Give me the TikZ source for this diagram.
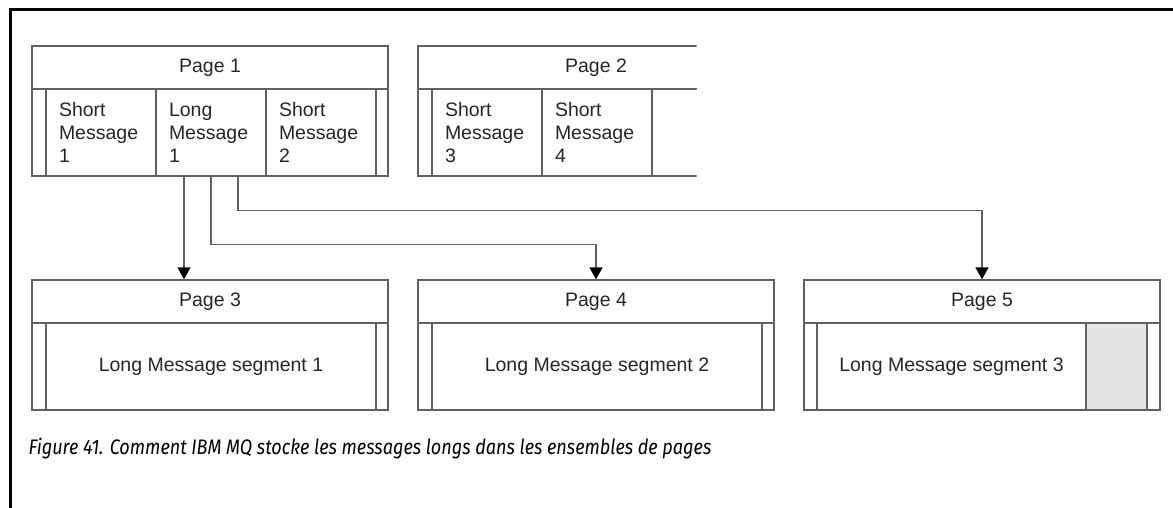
\documentclass[tikz,border=0pt]{standalone}
\usepackage{fontspec}
\setmainfont{Liberation Sans}
\newfontfamily\capfont[FakeStretch=0.86]{Fira Sans}
\usetikzlibrary{arrows.meta}
\tikzset{
  every picture/.style={line width=1.3pt},
  pghead/.style={draw=black!62,rectangle,minimum height=43pt,minimum width=356pt,inner sep=0pt,font=\fontsize{19.5}{23}\selectfont,text=black!85},
  cell/.style={draw=black!62,rectangle,minimum height=87pt,inner sep=0pt},
  msg/.style={cell,text width=84pt,inner xsep=13pt,align=left,font=\fontsize{19.5}{23}\selectfont,text=black!85},
  seg/.style={cell,font=\fontsize{19.5}{23}\selectfont,text=black!85},
  flow/.style={-{Triangle[length=12pt,width=13pt,color=black]},draw=black!62},
  frame/.style={line width=3pt},
}

\begin{document}
\begin{tikzpicture}[x=1pt,y=-1pt]
\fill[white] (0,0) rectangle (1173,508);
\useasboundingbox (0,0) rectangle (1173,508);
% outer frame
\draw[frame] (10,508) -- (10,10) -- (1173,10);
% page 1
\node[pghead] (P1) at (210,67.5) {Page 1};
\node[cell,minimum width=14pt] (P1l) at (39,132.5) {};
\node[msg] (S1) at (101,132.5) {Short\\Message\\1};
\node[msg] (L1) at (211,132.5) {Long\\Message\\1};
\node[msg] (S2) at (321,132.5) {Short\\Message\\2};
\node[cell,minimum width=12pt] (P1r) at (382,132.5) {};
% page 2 (cut off on the right)
\begin{scope}
\clip (400,30) rectangle (696.5,190);
\node[pghead] (P2) at (596,67.5) {Page 2};
\node[cell,minimum width=14pt] (P2l) at (425,132.5) {};
\node[msg] (S3) at (487,132.5) {Short\\Message\\3};
\node[msg] (S4) at (597,132.5) {Short\\Message\\4};
\node[cell,minimum width=122pt] (P2free) at (713,132.5) {};
\end{scope}
% page 3
\node[pghead] (P3) at (210,301.5) {Page 3};
\node[cell,minimum width=14pt] (P3l) at (39,366.5) {};
\node[seg,minimum width=330pt] (G1) at (211,366.5) {Long Message segment 1};
\node[cell,minimum width=12pt] (P3r) at (382,366.5) {};
% page 4
\node[pghead] (P4) at (596,301.5) {Page 4};
\node[cell,minimum width=14pt] (P4l) at (425,366.5) {};
\node[seg,minimum width=330pt] (G2) at (597,366.5) {Long Message segment 2};
\node[cell,minimum width=12pt] (P4r) at (768,366.5) {};
% page 5
\node[pghead] (P5) at (982,301.5) {Page 5};
\node[cell,minimum width=13pt] (P5l) at (810.5,366.5) {};
\node[seg,minimum width=269pt] (G3) at (951.5,366.5) {Long Message segment 3};
\node[cell,minimum width=61pt,fill=gray!20] (P5free) at (1116.5,366.5) {};
\node[cell,minimum width=13pt] (P5r) at (1153.5,366.5) {};
% segment pointers
\draw[flow] ([xshift=-27pt]L1.south) -- ([xshift=-27pt]L1.south |- P3.north);
\draw[flow] (L1.south) -- ++(0,68) -| (P4.north);
\draw[flow] ([xshift=27pt]L1.south) -- ++(0,34) -| (P5.north);
% caption
\node[anchor=base west,inner sep=0pt,font=\capfont\itshape\fontsize{21}{24}\selectfont] (CAP) at (28,454)
  {Figure 41. Comment IBM MQ stocke les messages longs dans les ensembles de pages};
\end{tikzpicture}
\end{document}
